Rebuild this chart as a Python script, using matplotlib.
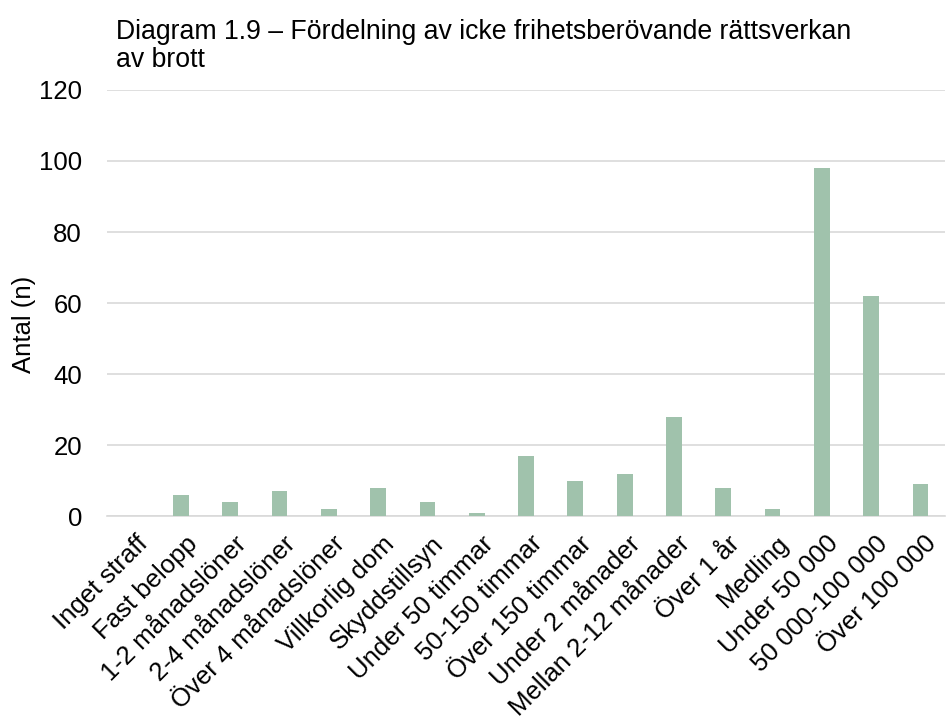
import matplotlib.pyplot as plt
from matplotlib.transforms import ScaledTranslation

plt.rcParams["font.family"] = ["Liberation Sans", "DejaVu Sans"]

categories = [
    "Inget straff", "Fast belopp", "1-2 månadslöner", "2-4 månadslöner",
    "Över 4 månadslöner", "Villkorlig dom", "Skyddstillsyn", "Under 50 timmar",
    "50-150 timmar", "Över 150 timmar", "Under 2 månader", "Mellan 2-12 månader",
    "Över 1 år", "Medling", "Under 50 000", "50 000-100 000", "Över 100 000",
]
counts = [0, 6, 4, 7, 2, 8, 4, 1, 17, 10, 12, 28, 8, 2, 98, 62, 9]
y_ticks = [0, 20, 40, 60, 80, 100, 120]

fig = plt.figure(figsize=(9.47, 7.25), dpi=100)
ax = fig.add_axes([0.113, 0.288, 0.885, 0.588])

x = range(len(categories))
ax.bar(x, counts, width=0.32, color="#A0C2AC", zorder=3)

ax.set_xlim(-0.5, len(categories) - 0.5)
ax.set_ylim(0, 120)
ax.set_yticks(y_ticks)
ax.yaxis.grid(True, color="#D9D9D9", linewidth=1.2, zorder=0)
ax.tick_params(axis="y", length=0, labelsize=18.5, pad=18)
ax.tick_params(axis="x", length=0, labelsize=18.5, pad=11)
ax.set_xticks(list(x))
ax.set_xticklabels(categories, rotation=45, ha="right", va="top",
                   rotation_mode="anchor")
# nudge the slanted labels so their ends sit at each bar
shift = ScaledTranslation(0.04, 0, fig.dpi_scale_trans)
for label in ax.get_xticklabels():
    label.set_transform(label.get_transform() + shift)
for side in ["top", "right", "left"]:
    ax.spines[side].set_visible(False)
ax.spines["bottom"].set_color("#D9D9D9")
ax.spines["bottom"].set_linewidth(1.2)

ax.set_ylabel("Antal (n)", fontsize=18.5)
ax.yaxis.set_label_coords(-0.085, 0.45)

fig.text(0.123, 0.936, "Diagram 1.9 – Fördelning av icke frihetsberövande rättsverkan\nav brott",
         fontsize=19.2, ha="left", va="center", linespacing=1.1)

fig.savefig("out.png", dpi=100)
